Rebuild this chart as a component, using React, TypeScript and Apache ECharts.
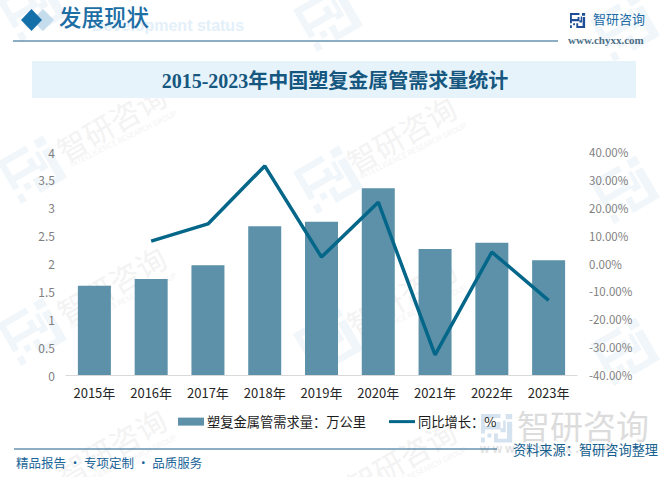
import React, { useEffect, useRef } from "react";
import * as echarts from "echarts";

const categories = ["2015年", "2016年", "2017年", "2018年", "2019年", "2020年", "2021年", "2022年", "2023年"];
const demand = [1.6, 1.72, 1.97, 2.67, 2.75, 3.35, 2.26, 2.37, 2.06];
const growth = [null, 8, 14.2, 35, 2.3, 22, -32.8, 4.1, -13.2];
const barName = "塑复金属管需求量：万公里";
const lineName = "同比增长：%";
const titleText = "2015-2023年中国塑复金属管需求量统计";
const headerText = "发展现状";
const headerEn = "Development status";
const brand = "智研咨询";
const brandEn = "INTELLIGENCE RESEARCH GROUP";
const site = "www.chyxx.com";
const footerLeft = "精品报告 · 专项定制 · 品质服务";
const footerRight = "资料来源：智研咨询整理";

const SANS = "'Noto Sans CJK SC', sans-serif";
const SERIF = "'Liberation Serif', 'Noto Sans CJK SC', serif";

const logoPath =
  "M0 0H15V3H3V9H12V6H15V12H3V15H0Z M0 18H3V22H0Z M5 15H8V18H5Z M19 0H24V4H19Z M10 15H13V19H20V6H24V22H10Z M17 5H19V14H15V11H17Z";
echarts.graphic.registerShape("chyxxLogo", echarts.graphic.extendPath(logoPath, {}) as any);

const ROT = Math.PI / 6;
const wmLogos = [
  [-3, 0], [293, 10], [590, 20],
  [-3, 162], [293, 172], [590, 182],
  [-3, 324], [293, 334], [590, 344],
];
const wmTexts = [
  [59, 152], [349, 164],
  [59, 314], [349, 326],
  [59, 476], [349, 488],
];

function watermarks() {
  const out: any[] = [];
  wmLogos.forEach(([x, y]) =>
    out.push({ type: "chyxxLogo", x, y, rotation: ROT, scaleX: 2.2, scaleY: 2.2, z: 0, style: { fill: "#f1f6fa" } })
  );
  wmTexts.forEach(([x, y]) => {
    out.push({ type: "text", x, y, rotation: ROT, z: 0, style: { text: brand, font: `30px ${SANS}`, fill: "#f3f3f3", verticalAlign: "middle" } });
    out.push({ type: "text", x: x + 11, y: y + 12, rotation: ROT * 0.87, z: 0, style: { text: brandEn, font: `7.5px ${SANS}`, fill: "#f3f3f3", verticalAlign: "middle" } });
  });
  return out;
}

export default function App() {
  const ref = useRef<HTMLDivElement>(null);
  useEffect(() => {
    const chart = echarts.init(ref.current!, undefined, { renderer: "svg" });
    chart.setOption({
      animation: false,
      backgroundColor: "#ffffff",
      grid: { left: 66, right: 91, top: 152, height: 223, containLabel: false },
      legend: {
        left: 178,
        top: 415,
        padding: 0,
        itemWidth: 26,
        itemHeight: 8,
        itemGap: 23,
        textStyle: { fontFamily: SANS, fontSize: 13.25, color: "#1a1a1a", padding: [0, 0, 0, -2] },
        data: [
          { name: barName, icon: "path://M0 0H26V8H0Z" },
          { name: lineName, icon: "path://M0 0H26V3H0Z" },
        ],
      },
      xAxis: {
        type: "category",
        data: categories,
        axisTick: { show: false },
        axisLine: { lineStyle: { color: "#d9d9d9", width: 1 } },
        axisLabel: { fontFamily: SANS, fontSize: 13, color: "#262626", margin: 11 },
      },
      yAxis: [
        {
          type: "value",
          min: 0,
          max: 4,
          interval: 0.5,
          axisLine: { show: false },
          axisTick: { show: false },
          splitLine: { show: false },
          axisLabel: { fontFamily: SANS, fontSize: 12, color: "#7f7f7f", margin: 11 },
        },
        {
          type: "value",
          min: -40,
          max: 40,
          interval: 10,
          position: "right",
          axisLine: { show: false },
          axisTick: { show: false },
          splitLine: { show: false },
          axisLabel: {
            fontFamily: SANS,
            fontSize: 11.5,
            color: "#7f7f7f",
            margin: 12,
            formatter: (v: number) => `${v.toFixed(2)}%`,
          },
        },
      ],
      series: [
        { name: barName, type: "bar", data: demand, barWidth: 33, itemStyle: { color: "#5d91a9" }, z: 2 },
        {
          name: lineName,
          type: "line",
          yAxisIndex: 1,
          data: growth,
          symbol: "none",
          connectNulls: false,
          lineStyle: { color: "#04678a", width: 3.5 },
          itemStyle: { color: "#04678a" },
          z: 3,
        },
      ],
      graphic: [
        ...watermarks(),
        { type: "rect", z: 1, shape: { x: 32, y: 61, width: 604, height: 37 }, style: { fill: "#e6f3fb" } },
        { type: "text", z: 1, x: 92, y: 17, style: { text: headerEn, font: `bold 16px 'Liberation Sans', sans-serif`, fill: "#e3f0fa" } },
        { type: "polygon", z: 1, shape: { points: [[43, 9], [54, 20], [43, 31], [32, 20]] }, style: { fill: "#c4dcec" } },
        { type: "polygon", z: 1, shape: { points: [[31.5, 9], [42, 20], [31.5, 31], [21, 20]] }, style: { fill: "#1470a9" } },
        { type: "text", z: 5, x: 59, y: 7, style: { text: headerText, font: `500 22.5px ${SERIF}`, fill: "#1d6ea4" } },
        { type: "line", z: 5, shape: { x1: 13, y1: 41, x2: 558, y2: 41 }, style: { stroke: "#1a5f8a", lineWidth: 1 } },
        { type: "text", z: 5, x: 335, y: 81, style: { text: titleText, font: `bold 20px ${SERIF}`, fill: "#15577f", align: "center", verticalAlign: "middle" } },
        { type: "chyxxLogo", z: 5, x: 570, y: 13, scaleX: 0.63, scaleY: 0.68, style: { fill: "#1f4e96" } },
        { type: "text", z: 5, x: 593, y: 12, style: { text: brand, font: `13px ${SANS}`, fill: "#1b6aa5" } },
        { type: "text", z: 5, x: 568, y: 34, style: { text: site, font: `bold 11px 'Liberation Serif', serif`, fill: "#4b6e88" } },
        { type: "chyxxLogo", z: 0, x: 481, y: 414, scaleX: 1.3, scaleY: 1.3, style: { fill: "#d5e2ef" } },
        { type: "text", z: 0, x: 517, y: 408, style: { text: brand, font: `33px ${SANS}`, fill: "#dcdcdc" } },
        { type: "text", z: 0, x: 480, y: 443, style: { text: "w w w . c h y x x . c o m", font: `bold 12px 'Liberation Sans', sans-serif`, fill: "#e2e2e2" } },
        { type: "line", z: 5, shape: { x1: 14, y1: 449, x2: 497, y2: 449 }, style: { stroke: "#1a5f8a", lineWidth: 1 } },
        { type: "text", z: 5, x: 16, y: 456, style: { text: footerLeft, font: `12.5px ${SANS}`, fill: "#1b6699" } },
        { type: "text", z: 5, x: 513, y: 443, style: { text: footerRight, font: `13.2px ${SANS}`, fill: "#14608f" } },
      ],
    });
    return () => chart.dispose();
  }, []);
  return <div ref={ref} style={{ position: "fixed", left: 0, top: 0, width: 668, height: 477 }} />;
}
